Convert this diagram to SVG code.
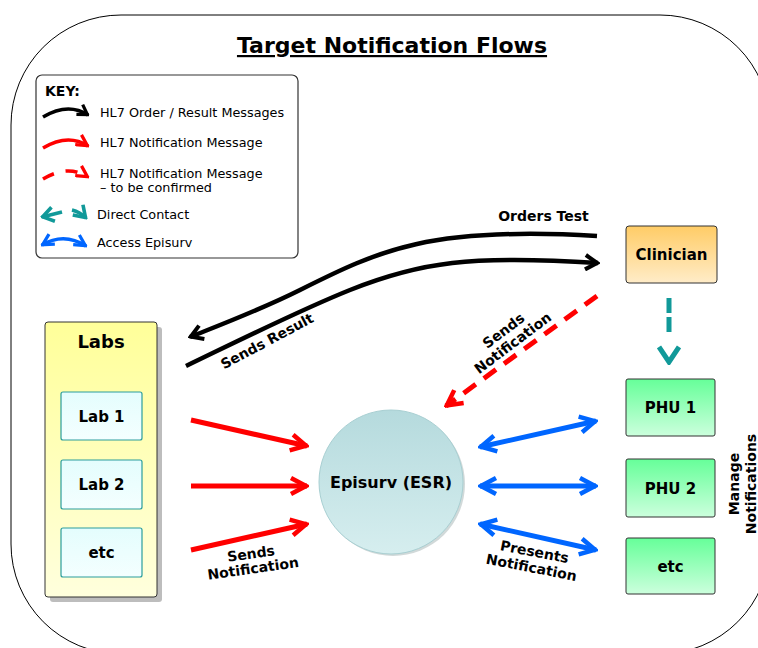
<svg xmlns="http://www.w3.org/2000/svg" width="758" height="648" viewBox="0 0 758 648">
<defs>
<style>
text{font-family:"DejaVu Sans","Verdana",sans-serif;fill:#000}
.t{font-size:22px;font-weight:bold;text-anchor:middle;text-decoration:underline}
.kt{font-size:12.8px}
.kh{font-size:14px;font-weight:bold}
.n{font-size:15px;font-weight:bold;text-anchor:middle}
.lb{font-size:14px;font-weight:bold;text-anchor:middle}
.box{stroke:#333;stroke-width:1}
.lab{fill:url(#gLab);stroke:#2a9d9d;stroke-width:1.2}
.phu{fill:url(#gPhu);stroke:#333;stroke-width:1}
.c{fill:none;stroke-linecap:butt}
.blk{stroke:#000;stroke-width:4.5;marker-end:url(#mB)}
.red{stroke:#ff0000;stroke-width:5;marker-end:url(#mR)}
.rdd{stroke:#ff0000;stroke-width:5;stroke-dasharray:15 10;marker-end:url(#mR)}
.blu{stroke:#0066ff;stroke-width:5;marker-start:url(#mU);marker-end:url(#mU)}
.tea{stroke:#119999;stroke-width:5;marker-end:url(#mT)}
</style>
<linearGradient id="gCl" x1="0" y1="0" x2="0" y2="1"><stop offset="0" stop-color="#ffcc66"/><stop offset="1" stop-color="#ffecc8"/></linearGradient>
<linearGradient id="gPhu" x1="0" y1="0" x2="0" y2="1"><stop offset="0" stop-color="#66ff99"/><stop offset="1" stop-color="#ccffdd"/></linearGradient>
<linearGradient id="gLabs" x1="0" y1="0" x2="0" y2="1"><stop offset="0" stop-color="#ffff99"/><stop offset="1" stop-color="#ffffdd"/></linearGradient>
<linearGradient id="gLab" x1="0" y1="0" x2="0" y2="1"><stop offset="0" stop-color="#e4fdfd"/><stop offset="1" stop-color="#f4ffff"/></linearGradient>
<linearGradient id="gEp" x1="0" y1="0" x2="0" y2="1"><stop offset="0" stop-color="#b5dadd"/><stop offset="1" stop-color="#d6eeef"/></linearGradient>
<marker id="mB" viewBox="-20 -10 22 20" refX="0" refY="0" markerWidth="4.4" markerHeight="4" markerUnits="strokeWidth" orient="auto-start-reverse"><path d="M-14,-8 L-1,0 L-14,8" fill="none" stroke="#000" stroke-width="4.5"/></marker>
<marker id="mR" viewBox="-20 -10 22 20" refX="0" refY="0" markerWidth="4.4" markerHeight="4" markerUnits="strokeWidth" orient="auto-start-reverse"><path d="M-16,-8 L-1,0 L-16,8" fill="none" stroke="#ff0000" stroke-width="4.5"/></marker>
<marker id="mU" viewBox="-20 -10 22 20" refX="0" refY="0" markerWidth="4.4" markerHeight="4" markerUnits="strokeWidth" orient="auto-start-reverse"><path d="M-16,-8 L-1,0 L-16,8" fill="none" stroke="#0066ff" stroke-width="4.5"/></marker>
<marker id="mT" viewBox="-20 -12 22 24" refX="0" refY="0" markerWidth="4.4" markerHeight="4.8" markerUnits="strokeWidth" orient="auto-start-reverse"><path d="M-16,-10 L-1,0 L-16,10" fill="none" stroke="#119999" stroke-width="5"/></marker>
</defs>

<rect x="11" y="15" width="759" height="639" rx="110" ry="110" fill="#fff" stroke="#000" stroke-width="1"/>
<text class="t" x="392" y="53">Target Notification Flows</text>

<g id="key">
<rect x="36" y="75" width="262" height="183" rx="6" fill="#fff" stroke="#333" stroke-width="1.2"/>
<text class="kh" x="45" y="96">KEY:</text>
<path class="c" d="M43,117 Q68,102 88,115" stroke="#000" stroke-width="3.6" marker-end="url(#mB)"/>
<text class="kt" x="100" y="117">HL7 Order / Result Messages</text>
<path class="c" d="M43,148 Q68,133 88,146" stroke="#ff0000" stroke-width="3.6" marker-end="url(#mR)"/>
<text class="kt" x="100" y="147">HL7 Notification Message</text>
<path class="c" d="M43,179 Q68,164 88,177" stroke="#ff0000" stroke-width="3.6" stroke-dasharray="12 12" marker-end="url(#mR)"/>
<text class="kt" x="100" y="178">HL7 Notification Message</text>
<text class="kt" x="100" y="192">– to be confirmed</text>
<path class="c" d="M62,212 L42,217" stroke="#119999" stroke-width="3.6" marker-end="url(#mT)"/>
<path class="c" d="M72,210 Q80,212 86,218" stroke="#119999" stroke-width="3.6" marker-end="url(#mT)"/>
<text class="kt" x="97" y="219">Direct Contact</text>
<path class="c" d="M42,245 Q64,232 86,246" stroke="#0066ff" stroke-width="3.6" marker-start="url(#mU)" marker-end="url(#mU)"/>
<text class="kt" x="97" y="247">Access Episurv</text>
</g>

<g id="clinician">
<rect class="box" x="626" y="226" width="91" height="57" rx="3" fill="url(#gCl)"/>
<text class="n" x="671.5" y="260">Clinician</text>
</g>

<g id="labs">
<rect x="50" y="327" width="112" height="275" rx="3" fill="#bdbdbd"/>
<rect class="box" x="45" y="322" width="112" height="275" rx="3" fill="url(#gLabs)"/>
<text class="n" x="101" y="348" style="font-size:18px">Labs</text>
</g>
<g id="lab1"><rect class="lab" x="61" y="392" width="81" height="48" rx="2"/><text class="n" x="101.5" y="421.5">Lab 1</text></g>
<g id="lab2"><rect class="lab" x="61" y="460" width="81" height="49" rx="2"/><text class="n" x="101.5" y="490">Lab 2</text></g>
<g id="labetc"><rect class="lab" x="61" y="528" width="81" height="49" rx="2"/><text class="n" x="101.5" y="558">etc</text></g>

<g id="episurv">
<circle cx="393" cy="484" r="72" fill="#9aa" opacity="0.45"/>
<circle cx="391" cy="482" r="72" fill="url(#gEp)" stroke="#a8cfd2" stroke-width="1"/>
<text class="n" x="391" y="488" style="font-size:16px">Episurv (ESR)</text>
</g>

<g id="phu1"><rect class="phu" x="626" y="379" width="89" height="57" rx="2"/><text class="n" x="670.5" y="413">PHU 1</text></g>
<g id="phu2"><rect class="phu" x="626" y="459" width="89" height="58" rx="2"/><text class="n" x="670.5" y="493.5">PHU 2</text></g>
<g id="phuetc"><rect class="phu" x="626" y="538" width="89" height="56" rx="2"/><text class="n" x="670.5" y="571.5">etc</text></g>

<g id="connectors">
<path class="c blk" d="M597,236 C430,226 380,250 300,290 C260,310 220,325 190,337"/>
<path class="c blk" d="M186,366 C240,340 300,310 350,290 C420,262 470,255 598,263"/>
<path class="c rdd" d="M597,296 L446,406"/>
<path class="c tea" d="M669,298 L669,363" stroke-dasharray="15 4 15 100"/>
<path class="c red" d="M191,420 L307,446"/>
<path class="c red" d="M191,486 L307,486"/>
<path class="c red" d="M191,550 L307,524"/>
<path class="c blu" d="M480,447 L596,421"/>
<path class="c blu" d="M480,486 L596,486"/>
<path class="c blu" d="M480,524 L596,550"/>
</g>

<g id="labels">
<text class="lb" x="543.5" y="221">Orders Test</text>
<g transform="translate(267,341) rotate(-28)"><text class="lb" x="0" y="5">Sends Result</text></g>
<g transform="translate(508,336.5) rotate(-37)"><text class="lb" x="0" y="-2.5">Sends</text><text class="lb" x="0" y="13">Notification</text></g>
<g transform="translate(252,561) rotate(-8)"><text class="lb" x="0" y="-2.5">Sends</text><text class="lb" x="0" y="12.5">Notification</text></g>
<g transform="translate(533,559.5) rotate(11)"><text class="lb" x="0" y="-3">Presents</text><text class="lb" x="0" y="13">Notification</text></g>
<g transform="translate(742.5,484) rotate(-90)"><text class="lb" x="0" y="-3.5">Manage</text><text class="lb" x="0" y="13.5">Notifications</text></g>
</g>
</svg>
